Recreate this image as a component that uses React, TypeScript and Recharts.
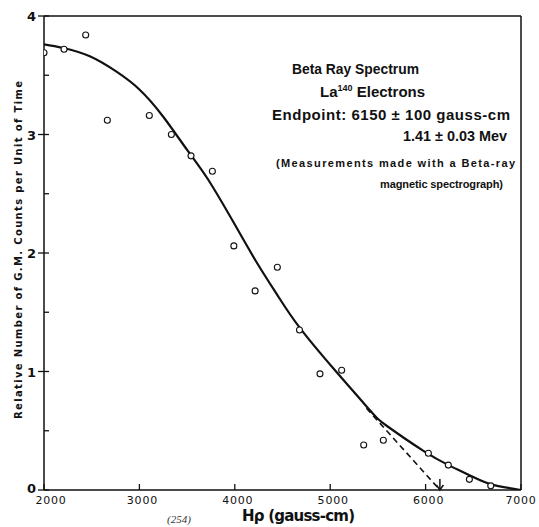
import React from 'react';
import { ComposedChart, XAxis, YAxis, Line, Scatter, ReferenceLine, ReferenceDot } from 'recharts';

// measured counts (open circles)
const measuredX = [2000, 2210, 2437, 2664, 3104, 3335, 3541, 3765, 3990, 4213, 4446, 4678, 4893, 5120, 5351, 5557, 6029, 6238, 6459, 6683];
const measuredY = [3.69, 3.72, 3.84, 3.12, 3.16, 3.0, 2.82, 2.69, 2.06, 1.68, 1.88, 1.35, 0.98, 1.01, 0.38, 0.42, 0.31, 0.21, 0.09, 0.035];

// hand-drawn fitted curve
const curveX = [2000, 2200, 2480, 2760, 3000, 3250, 3500, 3720, 4000, 4230, 4450, 4680, 5050, 5420, 5595, 5977, 6240, 6460, 6680, 7000];
const curveY = [3.76, 3.73, 3.66, 3.53, 3.38, 3.15, 2.87, 2.62, 2.24, 1.92, 1.64, 1.37, 1.01, 0.67, 0.54, 0.33, 0.21, 0.125, 0.05, 0];

// dashed extrapolation to the endpoint
const endpointX = [5380, 6150];
const endpointY = [0.69, 0];

const xTicks = [2000, 3000, 4000, 5000, 6000, 7000];
const yTicks = [0, 0.5, 1, 1.5, 2, 2.5, 3, 3.5, 4];

const measured = measuredX.map((x, i) => ({ x, y: measuredY[i] }));
const curve = curveX.map((x, i) => ({ x, y: curveY[i] }));
const endpoint = endpointX.map((x, i) => ({ x, y: endpointY[i] }));

const FONT = '"DejaVu Sans", "Liberation Sans", sans-serif';
const LETTER = '"Liberation Sans", Arial, sans-serif';
const INK = '#111';

const XTick = (props: any) => {
  const { x, y, payload } = props;
  // labels sit a little right of their tick, except at the corners
  const dx = payload.value === 2000 ? 7 : payload.value === 7000 ? 0 : 3;
  return (
    <g>
      <line x1={x} x2={x} y1={y} y2={y - 6} stroke={INK} strokeWidth={1.3} />
      <text x={x + dx} y={y + 14} textAnchor="middle" fontFamily={FONT} fontSize={11} letterSpacing={0.8} fill={INK}>
        {payload.value}
      </text>
    </g>
  );
};

const YTick = (props: any) => {
  const { x, y, payload } = props;
  const major = Number.isInteger(payload.value);
  return (
    <g>
      <line x1={major ? x - 6 : x} x2={x + 5} y1={y} y2={y} stroke={INK} strokeWidth={1.3} />
      {major && (
        <text x={x - 8} y={payload.value === 0 ? y + 3 : y + 5} textAnchor="end" fontFamily={FONT} fontWeight="bold" fontSize={13} fill={INK}>
          {payload.value}
        </text>
      )}
    </g>
  );
};

const Circle = (props: any) => (
  <circle cx={props.cx} cy={props.cy} r={3} fill="#fff" stroke={INK} strokeWidth={1.1} />
);

const Arrow = (props: any) => {
  const { cx, cy } = props;
  return (
    <g>
      <line x1={cx} x2={cx} y1={cy - 11} y2={cy} stroke={INK} strokeWidth={1.5} />
      <path d={`M${cx - 3.5},${cy - 5} L${cx},${cy} L${cx + 3.5},${cy - 5}`} fill="none" stroke={INK} strokeWidth={1.5} />
    </g>
  );
};

export default function App() {
  return (
    <div style={{ position: 'absolute', left: 0, top: 0, width: 539, height: 527, background: '#fff' }}>
      <ComposedChart width={539} height={527} margin={{ top: 16, right: 18, bottom: 7, left: 0 }}>
        <XAxis
          dataKey="x"
          type="number"
          domain={[2000, 7000]}
          ticks={xTicks}
          height={30}
          tickSize={0}
          tickMargin={0}
          tickLine={false}
          axisLine={{ stroke: INK, strokeWidth: 1.5 }}
          tick={<XTick />}
          interval={0}
          allowDataOverflow
        />
        <YAxis
          type="number"
          domain={[0, 4]}
          ticks={yTicks}
          width={44}
          tickSize={0}
          tickMargin={0}
          tickLine={false}
          axisLine={{ stroke: INK, strokeWidth: 1.5 }}
          tick={<YTick />}
          interval={0}
          allowDataOverflow
        />
        <ReferenceLine y={4} stroke={INK} strokeWidth={1.5} />
        <ReferenceLine x={7000} stroke={INK} strokeWidth={1.5} />
        <Line data={curve} dataKey="y" type="natural" stroke={INK} strokeWidth={2.2} dot={false} isAnimationActive={false} />
        <Line data={endpoint} dataKey="y" type="linear" stroke={INK} strokeWidth={1.6} strokeDasharray="6 4" dot={false} isAnimationActive={false} />
        <Scatter data={measured} dataKey="y" shape={<Circle />} isAnimationActive={false} />
        <ReferenceDot x={6150} y={0} shape={<Arrow />} />
      </ComposedChart>
      <svg width={539} height={527} style={{ position: 'absolute', left: 0, top: 0, pointerEvents: 'none' }}>
        <g fill={INK}>
          <text x={18} y={250} transform="rotate(-90 18 250)" textAnchor="middle" dominantBaseline="central" fontFamily={FONT} fontSize={10} fontWeight="bold" textLength={338} lengthAdjust="spacing">
            Relative Number of G.M. Counts per Unit of Time
          </text>
          <text x={242} y={521} fontFamily={FONT} fontSize={15} fontWeight="bold" textLength={113} lengthAdjust="spacing">
            Hρ (gauss-cm)
          </text>
          <text x={167} y={523} fontSize={11} fontStyle="italic" fill="#333" fontFamily="serif">
            (254)
          </text>
          <text x={292} y={74} fontFamily={LETTER} fontSize={15} fontWeight="bold" textLength={127} lengthAdjust="spacingAndGlyphs">
            Beta Ray Spectrum
          </text>
          <text x={320} y={97} fontFamily={LETTER} fontSize={15} fontWeight="bold">
            La<tspan fontSize={9} dy={-6}>140</tspan>
            <tspan dy={6}> Electrons</tspan>
          </text>
          <text x={272} y={120} fontFamily={LETTER} fontSize={15} fontWeight="bold" textLength={238} lengthAdjust="spacing">
            Endpoint: 6150 ± 100 gauss-cm
          </text>
          <text x={403} y={141} fontFamily={LETTER} fontSize={15} fontWeight="bold" textLength={104} lengthAdjust="spacingAndGlyphs">
            1.41 ± 0.03 Mev
          </text>
          <text x={276} y={167} fontFamily={LETTER} fontSize={11} fontWeight="bold" textLength={239} lengthAdjust="spacing">
            (Measurements made with a Beta-ray
          </text>
          <text x={380} y={188} fontFamily={LETTER} fontSize={11} fontWeight="bold" textLength={123} lengthAdjust="spacing">
            magnetic spectrograph)
          </text>
        </g>
      </svg>
    </div>
  );
}
